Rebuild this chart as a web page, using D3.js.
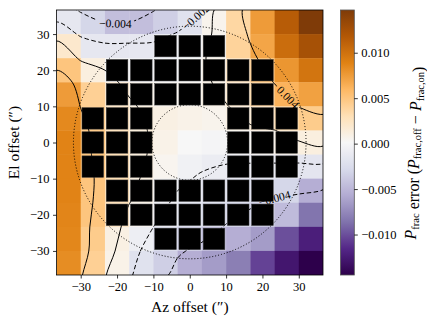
<!DOCTYPE html>
<html>
<head>
<meta charset="utf-8">
<script src="https://cdn.jsdelivr.net/npm/d3@7"></script>
<style>
  body { margin: 0; background: #fff; }
  text { font-family: "Liberation Serif", "DejaVu Serif", serif; }
</style>
</head>
<body>
<div id="chart"></div>
<script>
// pointing offsets of the 11 x 11 raster (arcsec)
var azOffsets = [-33.33, -26.67, -20, -13.33, -6.67, 0, 6.67, 13.33, 20, 26.67, 33.33];
var elOffsets = [33.33, 26.67, 20, 13.33, 6.67, 0, -6.67, -13.33, -20, -26.67, -33.33];

// Pfrac error per raster cell, units of 1e-3, rows from El = +33 down to El = -33
var pfracErr = [
  [-1.5, -3.0, -4.5, -4.5, -3.5, -2.0,  0.6,  3.7,  7.5, 11.5, 14.7],
  [ 2.0, -1.5, -1.5, -1.5, -1.0, -0.5,  0.5,  4.0,  7.0, 10.3, 12.5],
  [ 5.0,  1.2,  0.0, -0.5, -0.5,  0.0,  0.8,  2.5,  5.0,  7.8,  9.8],
  [ 7.5,  4.2,  2.0,  0.8,  0.5,  0.5,  1.0,  2.0,  4.0,  6.2,  7.2],
  [ 8.5,  4.5,  2.5,  1.5,  1.0,  0.8,  0.6,  1.2,  2.0,  3.5,  4.5],
  [ 8.8,  5.0,  3.0,  1.5,  0.8,  0.1, -0.2,  0.0,  0.5,  1.0,  1.2],
  [ 8.8,  5.0,  3.0,  1.2,  0.5, -0.5, -1.0, -1.2, -1.2, -1.5, -1.7],
  [ 8.8,  5.0,  3.0,  1.0, -0.5, -1.2, -1.8, -2.2, -2.5, -3.0, -5.5],
  [ 8.7,  5.0,  2.5,  0.5, -1.0, -2.0, -2.5, -3.0, -3.5, -4.7, -8.5],
  [ 8.6,  4.5,  1.0, -0.8, -2.5, -3.5, -4.5, -5.5, -6.5, -10.0, -12.2],
  [ 8.3,  4.2,  0.8, -2.0, -3.5, -5.5, -6.5, -8.0, -10.5, -12.8, -14.45]
];

// feedhorn footprint masked out (1 = masked), same layout as pfracErr
var hornMask = [
  "...........",
  "....###....",
  "..#######..",
  "..#######..",
  ".###...###.",
  ".###...###.",
  ".###...###.",
  "..#######..",
  "..#######..",
  "....###....",
  "..........."
];

// smooth model used for the contours, on the raster cell corners (units of 1e-3)
var fitAz = [-36.67, -30, -23.33, -16.67, -10, -3.33, 3.33, 10, 16.67, 23.33, 30, 36.67];
var fitEl = [36.67, 30, 23.33, 16.67, 10, 3.33, -3.33, -10, -16.67, -23.33, -30, -36.67];
var fitErr = [
  [-3.0, -4.2, -5.5, -5.5, -4.1, -3.0, -2.05, 2.0, 5.0, 6.5, 8.0, 9.0],
  [-1.0, -2.2, -2.6, -2.6, -2.4, -1.9, -1.0, 1.5, 4.4, 5.8, 7.0, 8.0],
  [ 2.5, -0.4, -1.0, -1.0, -1.2, -1.4, -0.3, 1.5, 3.4, 5.5, 7.0, 7.5],
  [ 5.5,  3.2,  1.0, -0.8, -1.3, -1.2, -0.7, 1.0, 2.4, 4.1, 5.5, 6.5],
  [ 6.0, 3.95,  2.2,  0.5, -1.0, -1.3, -0.9, -0.15, 1.2, 2.6, 4.1, 5.0],
  [ 6.5,  4.6,  2.8,  1.2, -0.4, -1.2, -1.2, -0.8, -0.4, -0.05, 1.0, 2.0],
  [ 6.5,  4.8,  3.0,  1.1, -0.4, -1.2, -1.5, -1.6, -1.5, -1.4, -1.3, -1.1],
  [ 6.5,  5.0,  3.2,  0.7, -0.9, -1.7, -2.2, -2.6, -2.9, -3.1, -3.3, -3.5],
  [ 6.5,  5.0,  3.0, 0.05, -1.4, -2.3, -2.8, -3.3, -3.8, -4.2, -4.4, -4.6],
  [ 6.5,  5.2,  2.0, -1.0, -2.0, -2.7, -3.3, -4.1, -4.6, -5.0, -5.2, -5.3],
  [ 6.5,  5.5,  1.0, -1.4, -2.7, -3.8, -4.4, -4.8, -5.0, -5.2, -5.3, -5.4],
  [ 6.5,  4.3,  0.1, -1.8, -3.2, -4.5, -5.0, -5.3, -5.4, -5.5, -5.5, -5.5]
];
var levels = [-0.004, -0.002, 0, 0.004];
var labelSpots = [
  {level: -0.004, az: -20.5, el: 33},
  {level: -0.002, az: 1.5, el: 35},
  {level: 0.004, az: 27, el: 12.5},
  {level: -0.004, az: 23.5, el: -16}
];

var beamCircles = [10.4, 32];   // dotted rings, radius in arcsec
var axisTicks = [-30, -20, -10, 0, 10, 20, 30];
var cbarTicks = [-0.010, -0.005, 0.000, 0.005, 0.010];

var puor = ["#2d004b", "#542788", "#8073ac", "#b2abd2", "#d8daeb", "#f7f7f7",
            "#fee0b6", "#fdb863", "#e08214", "#b35806", "#7f3b08"];

var W = 427, H = 320;
var step = azOffsets[1] - azOffsets[0];
var half = step / 2;

var x = d3.scaleLinear().domain([azOffsets[0] - half, azOffsets[10] + half]).range([56.5, 323]);
var y = d3.scaleLinear().domain([elOffsets[10] - half, elOffsets[0] + half]).range([275, 10]);

var cells = [];
pfracErr.forEach(function(row, r) {
  row.forEach(function(v, c) {
    cells.push({az: azOffsets[c], el: elOffsets[r], v: v / 1000, masked: hornMask[r][c] === "#"});
  });
});

var ramp = d3.piecewise(d3.interpolateRgb, puor);
var vext = d3.extent(cells, function(d) { return d.v; });
var color = d3.scaleSequential(ramp).domain(vext);

var svg = d3.select("#chart").append("svg").attr("width", W).attr("height", H);
var defs = svg.append("defs");
defs.append("clipPath").attr("id", "plotClip").append("rect")
    .attr("x", x.range()[0]).attr("y", y.range()[1])
    .attr("width", x.range()[1] - x.range()[0]).attr("height", y.range()[0] - y.range()[1]);
var mask = defs.append("mask").attr("id", "labelMask")
    .attr("maskUnits", "userSpaceOnUse")
    .attr("x", 0).attr("y", 0).attr("width", W).attr("height", H);
mask.append("rect").attr("width", W).attr("height", H).attr("fill", "white");

var plot = svg.append("g").attr("clip-path", "url(#plotClip)");

// heatmap
plot.selectAll("rect.cell").data(cells).join("rect")
    .attr("class", "cell")
    .attr("x", function(d) { return x(d.az - half); })
    .attr("y", function(d) { return y(d.el + half); })
    .attr("width", x(step) - x(0) + 0.4)
    .attr("height", y(0) - y(step) + 0.4)
    .attr("fill", function(d) { return color(d.v); });

// contours of the model
var nx = fitAz.length, ny = fitEl.length;
var fstep = fitAz[1] - fitAz[0];
var flat = [].concat.apply([], fitErr).map(function(v) { return v / 1000; });
var contours = d3.contours().size([nx, ny]).thresholds(levels)(flat);

var ringLine = d3.line()
    .x(function(p) { return x(fitAz[0] + (p[0] - 0.5) * fstep); })
    .y(function(p) { return y(fitEl[0] - (p[1] - 0.5) * fstep); })
    .curve(d3.curveCatmullRomClosed.alpha(0.5));

var rings = [];
contours.forEach(function(c) {
  c.coordinates.forEach(function(poly) {
    poly.forEach(function(ring) {
      rings.push({level: c.value, pts: ring.slice(0, ring.length - 1)});
    });
  });
});

var cg = plot.append("g").attr("mask", "url(#labelMask)");
var ringPaths = cg.selectAll("path").data(rings).join("path")
    .attr("d", function(d) { return ringLine(d.pts); })
    .attr("fill", "none")
    .attr("stroke", "#000")
    .attr("stroke-width", 1)
    .attr("stroke-dasharray", function(d) { return d.level < 0 ? "4.5,2.5" : null; });

// dotted rings
plot.selectAll("circle.beam").data(beamCircles).join("circle")
    .attr("class", "beam")
    .attr("cx", x(0)).attr("cy", y(0))
    .attr("r", function(d) { return x(d) - x(0); })
    .attr("fill", "none").attr("stroke", "#000")
    .attr("stroke-width", 1).attr("stroke-dasharray", "1,2");

// masked horn cells
var inset = 1.3;
plot.selectAll("rect.horn").data(cells.filter(function(d) { return d.masked; })).join("rect")
    .attr("class", "horn")
    .attr("x", function(d) { return x(d.az - half) + inset; })
    .attr("y", function(d) { return y(d.el + half) + inset; })
    .attr("width", x(step) - x(0) - 2 * inset)
    .attr("height", y(0) - y(step) - 2 * inset)
    .attr("fill", "#000").attr("stroke", "#3a3a3a").attr("stroke-width", 0.5);

// contour labels
var fmt = d3.format(".3f");
var labelG = plot.append("g");
labelSpots.forEach(function(s) {
  var tx = x(s.az), ty = y(s.el);
  var best = null;
  ringPaths.filter(function(d) { return d.level === s.level; }).each(function() {
    var L = this.getTotalLength();
    for (var l = 0; l <= L; l += 0.5) {
      var p = this.getPointAtLength(l);
      var dd = (p.x - tx) * (p.x - tx) + (p.y - ty) * (p.y - ty);
      if (!best || dd < best.dd) best = {dd: dd, l: l, node: this, p: p, L: L};
    }
  });
  if (!best) return;
  var a = best.node.getPointAtLength(Math.max(0, best.l - 4));
  var b = best.node.getPointAtLength(Math.min(best.L, best.l + 4));
  var ang = Math.atan2(b.y - a.y, b.x - a.x) * 180 / Math.PI;
  if (ang > 90) ang -= 180;
  if (ang < -90) ang += 180;
  var t = labelG.append("text")
      .attr("transform", "translate(" + best.p.x + "," + best.p.y + ") rotate(" + ang + ")")
      .attr("text-anchor", "middle").attr("dy", "0.33em")
      .attr("font-size", 11.5).attr("fill", "#000")
      .text(fmt(s.level));
  var w = t.node().getComputedTextLength() + 5;
  mask.append("rect")
      .attr("transform", "translate(" + best.p.x + "," + best.p.y + ") rotate(" + ang + ")")
      .attr("x", -w / 2).attr("y", -5).attr("width", w).attr("height", 10)
      .attr("fill", "black");
});

// frame
svg.append("rect")
    .attr("x", x.range()[0]).attr("y", y.range()[1])
    .attr("width", x.range()[1] - x.range()[0]).attr("height", y.range()[0] - y.range()[1])
    .attr("fill", "none").attr("stroke", "#000").attr("stroke-width", 0.8);

// axes
var fmtInt = d3.format("d");
var xAxis = svg.append("g").attr("transform", "translate(0," + y.range()[0] + ")")
    .call(d3.axisBottom(x).tickValues(axisTicks).tickFormat(fmtInt).tickSize(3.5).tickPadding(3.5));
var yAxis = svg.append("g").attr("transform", "translate(" + x.range()[0] + ",0)")
    .call(d3.axisLeft(y).tickValues(axisTicks).tickFormat(fmtInt).tickSize(3.5).tickPadding(3.5));
[xAxis, yAxis].forEach(function(g) {
  g.select(".domain").remove();
  g.attr("font-family", null).attr("font-size", null);
  g.selectAll("line").attr("stroke-width", 0.8);
  g.selectAll("text").attr("font-size", 12.5).attr("fill", "#000");
});

svg.append("text")
    .attr("x", x(0)).attr("y", 312)
    .attr("text-anchor", "middle").attr("font-size", 15.5)
    .text("Az offset (\u2033)");
svg.append("text")
    .attr("transform", "translate(19," + y(0) + ") rotate(-90)")
    .attr("text-anchor", "middle").attr("font-size", 15.5)
    .text("El offset (\u2033)");

// colorbar
var cbX = 340.5, cbW = 13.8;
var cb = d3.scaleLinear().domain(vext).range([275, 10]);
var grad = defs.append("linearGradient").attr("id", "cbGrad")
    .attr("x1", 0).attr("y1", 1).attr("x2", 0).attr("y2", 0);
d3.range(0, 1.0001, 0.02).forEach(function(t) {
  grad.append("stop").attr("offset", t).attr("stop-color", ramp(t));
});
svg.append("rect")
    .attr("x", cbX).attr("y", 10).attr("width", cbW).attr("height", 265)
    .attr("fill", "url(#cbGrad)").attr("stroke", "#555").attr("stroke-width", 0.8);
var cAxis = svg.append("g").attr("transform", "translate(" + (cbX + cbW) + ",0)")
    .call(d3.axisRight(cb).tickValues(cbarTicks).tickFormat(fmt).tickSize(3.5).tickPadding(3.5));
cAxis.select(".domain").remove();
cAxis.attr("font-family", null).attr("font-size", null);
cAxis.selectAll("line").attr("stroke-width", 0.8);
cAxis.selectAll("text").attr("font-size", 12.5).attr("fill", "#000");

var cl = svg.append("text")
    .attr("transform", "translate(416,153) rotate(-90)")
    .attr("text-anchor", "middle").attr("font-size", 16);
function sym(base, sub) {
  cl.append("tspan").attr("font-style", "italic").text(base);
  cl.append("tspan").attr("font-size", 10.5).attr("dy", 2.5).text(sub);
  cl.append("tspan").attr("dy", -2.5).text("");
}
sym("P", "frac");
cl.append("tspan").text(" error (");
sym("P", "frac,off");
cl.append("tspan").text(" \u2212 ");
sym("P", "frac,on");
cl.append("tspan").text(")");
</script>
</body>
</html>
